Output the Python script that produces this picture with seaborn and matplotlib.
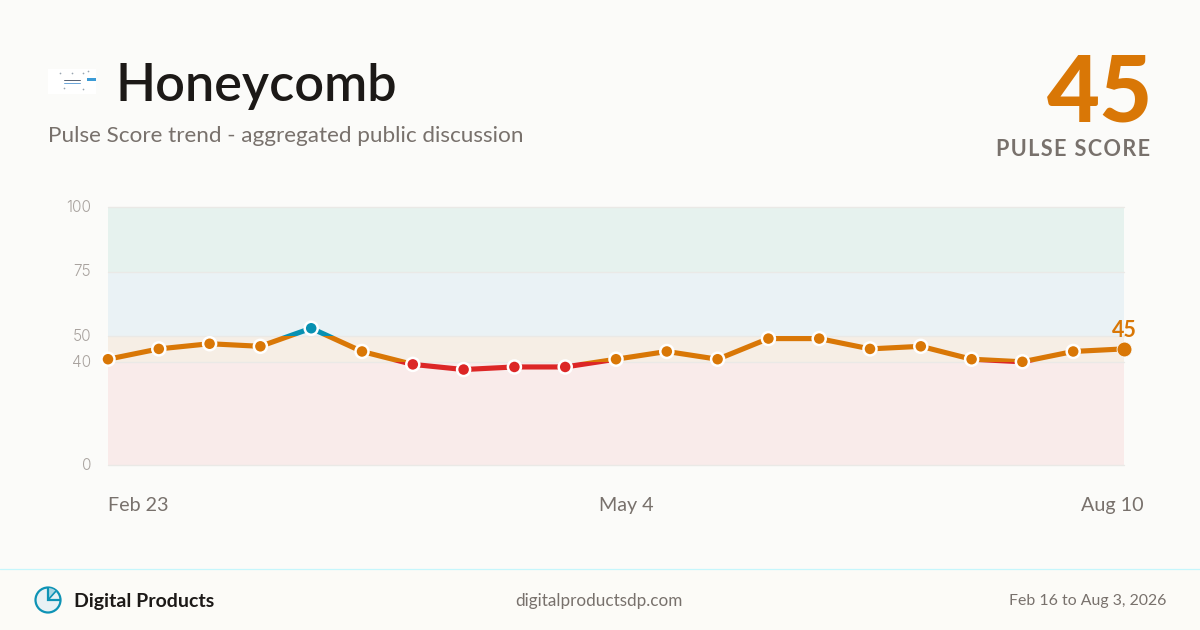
import matplotlib
matplotlib.use('Agg')
import matplotlib.pyplot as plt
from matplotlib.patches import Circle, Rectangle, Wedge
from matplotlib.transforms import ScaledTranslation
import pandas as pd
import seaborn as sns

scores = [41, 45, 47, 46, 53, 44, 39, 37, 38, 38, 41, 44, 41, 49, 49, 45, 46, 41, 40, 44, 45]
y_ticks = [0, 40, 50, 75, 100]
x_ticks = [0, 10, 20]
x_labels = ['Feb 23', 'May 4', 'Aug 10']
band_edges = [(0, 40), (40, 50), (50, 75), (75, 100)]
band_fill = ['#F9EBEA', '#F6EEE5', '#EAF2F5', '#E6F2EE']
band_line = ['#DC2626', '#D97706', '#0891B2', '#0891B2']

BG = '#FBFBF9'
ORANGE = '#D97706'
GRAY = '#78716C'
INK = '#1C1917'

sns.set_theme(style='white')
plt.rcParams['font.family'] = ['Lato', 'DejaVu Sans']

data = pd.DataFrame({'week': range(len(scores)), 'score': scores})
data['level'] = ['blue' if s > 50 else 'red' if s < 40 else 'orange' for s in scores]

fig = plt.figure(figsize=(12, 6.3), dpi=100, facecolor=BG)

# page layer in pixels, header and footer live here
page = fig.add_axes([0, 0, 1, 1])
page.set_xlim(0, 1200)
page.set_ylim(630, 0)
page.axis('off')

page.add_patch(Rectangle((0, 569), 1200, 61, color='#FCFBF7', lw=0))
page.plot([0, 1200], [568.6, 568.6], color='#C5F6FC', lw=0.9)

# logo thumbnail
page.add_patch(Rectangle((48, 69), 48, 25, color='white', lw=0))
page.add_patch(Rectangle((87, 78), 9, 3, color='#3B9BD6', lw=0))
page.plot([64, 80], [80, 80], color='#556070', lw=0.7)
page.plot([64, 80], [83, 83], color='#6AA5D8', lw=0.7)
page.scatter([60, 72, 83, 88, 64, 83], [73, 73, 73, 71, 88, 89], s=1.5, color='#9AA5B1', lw=0)

page.text(115, 86, 'Honeycomb', fontsize=37.5, fontweight=600, color=INK, va='center', ha='left')
page.text(48, 136, 'Pulse Score trend - aggregated public discussion', fontsize=16.2,
          fontweight=400, color=GRAY, va='center', ha='left')
page.text(1153, 96, '45', fontsize=66, fontweight=900, color=ORANGE, va='center', ha='right')
page.text(1150, 149, 'P\u200aU\u200aL\u200aS\u200aE\u2009 S\u200aC\u200aO\u200aR\u200aE', fontsize=15.6,
          fontweight=700, color=GRAY, va='center', ha='right')

# footer icon
page.add_patch(Circle((48, 600), 12.5, facecolor='#E8F1F4', edgecolor='#0E93B5', lw=1.6))
page.add_patch(Wedge((48, 600), 12, -90, -45, facecolor='#A9D6E2', edgecolor='none'))
page.plot([48, 48, 60], [588, 600, 600], color='#0E93B5', lw=1.6, solid_joinstyle='miter')
page.plot([48, 56], [600, 591], color='#0E93B5', lw=1.2)

page.text(74, 601, 'Digital Products', fontsize=14, fontweight=700, color=INK, va='center', ha='left')
page.text(599, 601, 'digitalproductsdp.com', fontsize=12.3, fontweight=400, color=GRAY, va='center', ha='center')
page.text(1166, 601, 'Feb 16 to Aug 3, 2026', fontsize=11.4, fontweight=400, color=GRAY, va='center', ha='right')

# chart
ax = fig.add_axes([108 / 1200, 1 - 465 / 630, (1124 - 108) / 1200, (465 - 207) / 630])
ax.set_facecolor('none')
ax.set_xlim(0, 20)
ax.set_ylim(0, 100)
sns.despine(ax=ax, left=True, bottom=True)

for (lo, hi), fill in zip(band_edges, band_fill):
    ax.axhspan(lo, hi, color=fill, lw=0, zorder=0)
for v in y_ticks:
    ax.axhline(v, color='#EAE9E6', lw=1, zorder=1, clip_on=False)

# same line once per band, clipped so the colour follows the score
for (lo, hi), col in zip(band_edges, band_line):
    sns.lineplot(data=data, x='week', y='score', color=col, lw=3.7, ax=ax, zorder=2, errorbar=None)
    line = ax.lines[-1]
    line.set_solid_joinstyle('round')
    line.set_clip_path(Rectangle((-2, lo), 24, hi - lo, transform=ax.transData))

rest = data.iloc[:-1]
sns.scatterplot(data=rest, x='week', y='score', hue='level', legend=False, ax=ax, s=88,
                palette={'blue': '#0891B2', 'orange': ORANGE, 'red': '#DC2626'},
                edgecolor='white', linewidth=1.8, zorder=3, clip_on=False)
sns.scatterplot(data=data.iloc[-1:], x='week', y='score', color=ORANGE, ax=ax, s=115,
                edgecolor=BG, linewidth=0.6, zorder=4, clip_on=False)
ax.annotate(str(scores[-1]), (20, scores[-1]), xytext=(0, 6), textcoords='offset points',
            ha='center', va='bottom', fontsize=15.5, fontweight=700, color=ORANGE)

ax.set_xlabel('')
ax.set_ylabel('')
ax.set_yticks(y_ticks)
ax.set_yticklabels([str(v) for v in y_ticks], fontsize=11, fontweight=300, color='#A8A29E',
                   family=['Inter', 'DejaVu Sans'])
ax.set_xticks(x_ticks)
ax.set_xticklabels(x_labels, fontsize=14.2, fontweight=400, color=GRAY)
ax.tick_params(axis='y', length=0, pad=12)
ax.tick_params(axis='x', length=0, pad=23)
for lab, dx in zip(ax.get_xticklabels(), [30.5, 10, -11.5]):
    lab.set_transform(lab.get_transform() + ScaledTranslation(dx / 100, 0, fig.dpi_scale_trans))
for lab in ax.get_yticklabels():
    lab.set_transform(lab.get_transform() + ScaledTranslation(0, 1 / 100, fig.dpi_scale_trans))

fig.savefig('out.png', dpi=100, facecolor=BG)
